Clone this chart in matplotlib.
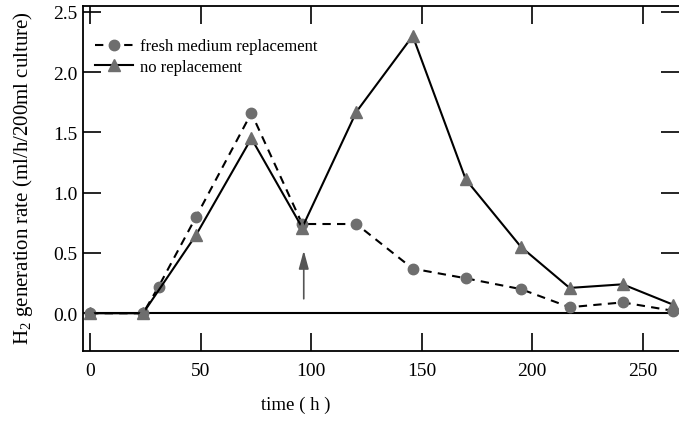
import matplotlib
matplotlib.use("Agg")
import matplotlib.pyplot as plt

plt.rcParams['font.family'] = ['Liberation Serif', 'DejaVu Serif']
plt.rcParams['mathtext.fontset'] = 'custom'
plt.rcParams['mathtext.rm'] = 'Liberation Serif'

time_fresh = [0, 24, 31, 48, 73, 96, 120.5, 146, 170, 195, 217, 241, 264]
fresh = [0.0, 0.0, 0.22, 0.80, 1.66, 0.74, 0.74, 0.37, 0.29, 0.20, 0.05, 0.09, 0.02]

time_none = [0, 24, 48, 73, 96, 120.5, 146, 170, 195, 217, 241, 264]
none = [0.0, 0.0, 0.65, 1.45, 0.71, 1.67, 2.30, 1.11, 0.55, 0.21, 0.24, 0.07]

xticks = [0, 50, 100, 150, 200, 250]
yticks = [0.0, 0.5, 1.0, 1.5, 2.0, 2.5]
ytick_labels = ['0.0', '0.5', '1.0', '1.5', '2.0', '2.5']

fig = plt.figure(figsize=(6.79, 4.31), dpi=100)
ax = fig.add_axes([0.1222, 0.1833, 0.8778, 0.8005])

mcol = '#6e6e6e'
ax.plot(time_fresh, fresh, color='black', lw=1.5, ls=(0, (4, 3)), marker='o',
        markersize=7.5, markerfacecolor=mcol, markeredgecolor=mcol,
        label='fresh medium replacement')
ax.plot(time_none, none, color='black', lw=1.5, ls='-', marker='^',
        markersize=8, markerfacecolor=mcol, markeredgecolor=mcol,
        label='no replacement')
ax.axhline(0, color='black', lw=1.5, zorder=1)

ax.annotate('', xy=(96.7, 0.52), xytext=(96.7, 0.12),
            arrowprops=dict(arrowstyle='-|>,head_length=1.1,head_width=0.3',
                            color='#555555', lw=1.2, shrinkA=0, shrinkB=0,
                            mutation_scale=10))

ax.set_xlim(-3.2, 266.5)
ax.set_ylim(-0.313, 2.548)
ax.set_xticks(xticks)
ax.set_yticks(yticks)
ax.set_yticklabels(ytick_labels)
ax.tick_params(axis='both', direction='in', length=13, width=1.2,
               top=True, right=True, labelsize=14, pad=8)
ax.tick_params(axis='y', pad=4)
ax.spines['right'].set_visible(False)
for s in ['left', 'bottom', 'top']:
    ax.spines[s].set_linewidth(1.3)

ax.set_ylabel('H$_2$ generation rate (ml/h/200ml culture)', fontsize=15)
ax.yaxis.set_label_coords(-0.08, 0.505)
ax.set_xlabel('time ( h )', fontsize=13.5)
ax.xaxis.set_label_coords(0.357, -0.13)

ax.legend(loc='upper left', frameon=False, fontsize=12, handlelength=2.3,
          handletextpad=0.4, borderaxespad=0.3, labelspacing=0.25,
          bbox_to_anchor=(0.0, 0.94))

fig.savefig('out.png', dpi=100)
